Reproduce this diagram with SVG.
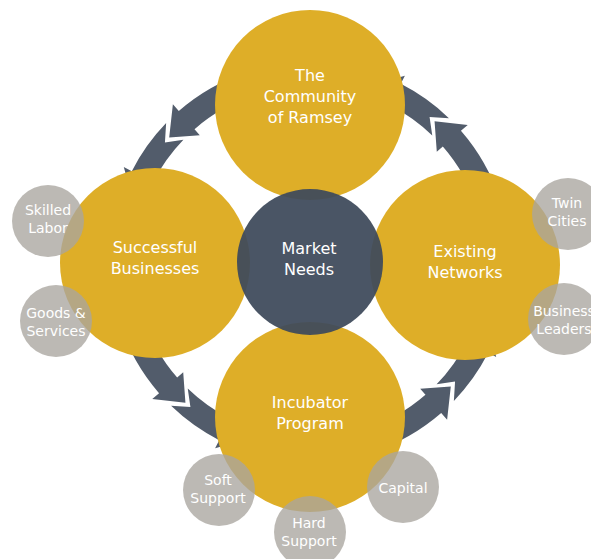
<svg xmlns="http://www.w3.org/2000/svg" xmlns:xlink="http://www.w3.org/1999/xlink" width="591" height="559" viewBox="0 0 591 559">
  <style>
    .gold { fill: #deae28; }
    .hub { fill: #3f4a5b; fill-opacity: 0.94; }
    .sat { fill: #a9a59f; fill-opacity: 0.78; }
    .arrow { fill: #525c6b; }
    text { font-family: "DejaVu Sans", "Liberation Sans", sans-serif; fill: #ffffff; text-anchor: middle; }
    .big { font-size: 16px; }
    .small { font-size: 14px; }
  </style>
  <defs>
    <!-- two chevron segments of one quadrant of the ring, centred on (310,262) -->
    <g id="quadrant">
      <path class="arrow" d="M371.80,452.21 A200,200 0 0 0 441.21,412.94 L447.12,419.73 L450.80,386.57 L420.22,388.79 L425.47,394.83 A176,176 0 0 1 364.39,429.39 L386.47,433.75 Z"/>
      <path class="arrow" d="M453.87,400.93 A200,200 0 0 0 488.20,352.80 L496.22,356.88 L487.22,324.76 L459.69,338.27 L466.82,341.90 A176,176 0 0 1 436.60,384.26 L455.06,381.58 Z"/>
    </g>
  </defs>

  <g id="connectors">
    <use xlink:href="#quadrant"/>
    <use xlink:href="#quadrant" transform="rotate(-90 310 262)"/>
    <use xlink:href="#quadrant" transform="rotate(180 310 262)"/>
    <use xlink:href="#quadrant" transform="rotate(90 310 262)"/>
  </g>

  <g id="community">
    <circle class="gold" cx="310" cy="105" r="95"/>
  </g>
  <g id="successful-businesses">
    <circle class="gold" cx="155" cy="263" r="95"/>
  </g>
  <g id="existing-networks">
    <circle class="gold" cx="465" cy="265" r="95"/>
  </g>
  <g id="incubator-program">
    <circle class="gold" cx="310" cy="417" r="95"/>
  </g>
  <g id="market-needs">
    <circle class="hub" cx="310" cy="262" r="73"/>
  </g>

  <g id="skilled-labor"><circle class="sat" cx="48" cy="221" r="36"/></g>
  <g id="goods-services"><circle class="sat" cx="56" cy="321" r="36"/></g>
  <g id="twin-cities"><circle class="sat" cx="568" cy="214" r="36"/></g>
  <g id="business-leaders"><circle class="sat" cx="564" cy="319" r="36"/></g>
  <g id="soft-support"><circle class="sat" cx="219" cy="490" r="36"/></g>
  <g id="hard-support"><circle class="sat" cx="310" cy="532" r="36"/></g>
  <g id="capital"><circle class="sat" cx="403" cy="487" r="36"/></g>

  <g id="labels">
    <text class="big" x="310" y="81">The</text>
    <text class="big" x="310" y="102">Community</text>
    <text class="big" x="310" y="123">of Ramsey</text>

    <text class="big" x="155" y="253">Successful</text>
    <text class="big" x="155" y="274">Businesses</text>

    <text class="big" x="309" y="254">Market</text>
    <text class="big" x="309" y="275">Needs</text>

    <text class="big" x="465" y="257">Existing</text>
    <text class="big" x="465" y="278">Networks</text>

    <text class="big" x="310" y="408">Incubator</text>
    <text class="big" x="310" y="429">Program</text>

    <text class="small" x="48" y="215">Skilled</text>
    <text class="small" x="48" y="233">Labor</text>
    <text class="small" x="56" y="318">Goods &amp;</text>
    <text class="small" x="56" y="336">Services</text>
    <text class="small" x="567" y="208">Twin</text>
    <text class="small" x="567" y="226">Cities</text>
    <text class="small" x="564" y="316">Business</text>
    <text class="small" x="564" y="334">Leaders</text>
    <text class="small" x="218" y="485">Soft</text>
    <text class="small" x="218" y="503">Support</text>
    <text class="small" x="309" y="528">Hard</text>
    <text class="small" x="309" y="546">Support</text>
    <text class="small" x="403" y="493">Capital</text>
  </g>
</svg>
